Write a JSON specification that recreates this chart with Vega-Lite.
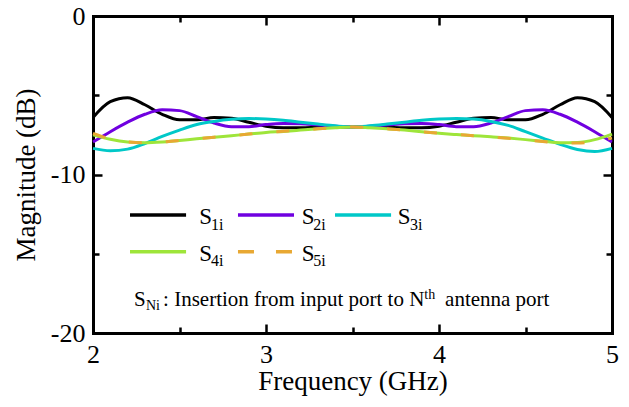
{
  "$schema": "https://vega.github.io/schema/vega-lite/v6.json",
  "width": 519,
  "height": 317,
  "autosize": "none",
  "padding": {"left": 93, "top": 16, "right": 17, "bottom": 74},
  "background": "white",
  "config": {
    "view": {"stroke": null},
    "font": "'Liberation Serif', 'Times New Roman', Times, 'DejaVu Serif', serif",
    "text": {"font": "'Liberation Serif', 'Times New Roman', Times, 'DejaVu Serif', serif"},
    "axis": {
      "grid": false,
      "domainColor": "black",
      "domainWidth": 3,
      "domainCap": "square",
      "tickColor": "black",
      "tickWidth": 2.5,
      "labelFont": "'Liberation Serif', 'Times New Roman', Times, 'DejaVu Serif', serif",
      "labelFontSize": 26,
      "labelColor": "black",
      "labelFlush": false,
      "labelOverlap": false,
      "titleFont": "'Liberation Serif', 'Times New Roman', Times, 'DejaVu Serif', serif",
      "titleFontSize": 27,
      "titleFontWeight": "normal",
      "titleColor": "black"
    }
  },
  "datasets": {
    "curves": [
      {"f": 2.0, "s": "S1i", "db": -6.4}, {"f": 2.1, "s": "S1i", "db": -5.4}, {"f": 2.2, "s": "S1i", "db": -5.15}, {"f": 2.3, "s": "S1i", "db": -5.6}, {"f": 2.4, "s": "S1i", "db": -6.2}, {"f": 2.5, "s": "S1i", "db": -6.55}, {"f": 2.6, "s": "S1i", "db": -6.55}, {"f": 2.7, "s": "S1i", "db": -6.4}, {"f": 2.8, "s": "S1i", "db": -6.45}, {"f": 2.9, "s": "S1i", "db": -6.7}, {"f": 3.0, "s": "S1i", "db": -6.95}, {"f": 3.1, "s": "S1i", "db": -7.05}, {"f": 3.2, "s": "S1i", "db": -7.05}, {"f": 3.3, "s": "S1i", "db": -7.02}, {"f": 3.4, "s": "S1i", "db": -7.0}, {"f": 3.5, "s": "S1i", "db": -7.0}, {"f": 3.6, "s": "S1i", "db": -7.0}, {"f": 3.7, "s": "S1i", "db": -7.02}, {"f": 3.8, "s": "S1i", "db": -7.05}, {"f": 3.9, "s": "S1i", "db": -7.05}, {"f": 4.0, "s": "S1i", "db": -6.95}, {"f": 4.1, "s": "S1i", "db": -6.7}, {"f": 4.2, "s": "S1i", "db": -6.45}, {"f": 4.3, "s": "S1i", "db": -6.4}, {"f": 4.4, "s": "S1i", "db": -6.55}, {"f": 4.5, "s": "S1i", "db": -6.55}, {"f": 4.6, "s": "S1i", "db": -6.2}, {"f": 4.7, "s": "S1i", "db": -5.6}, {"f": 4.8, "s": "S1i", "db": -5.15}, {"f": 4.9, "s": "S1i", "db": -5.4}, {"f": 5.0, "s": "S1i", "db": -6.4},
      {"f": 2.0, "s": "S2i", "db": -7.95}, {"f": 2.1, "s": "S2i", "db": -7.3}, {"f": 2.2, "s": "S2i", "db": -6.7}, {"f": 2.3, "s": "S2i", "db": -6.2}, {"f": 2.4, "s": "S2i", "db": -5.92}, {"f": 2.5, "s": "S2i", "db": -5.97}, {"f": 2.6, "s": "S2i", "db": -6.35}, {"f": 2.7, "s": "S2i", "db": -6.75}, {"f": 2.8, "s": "S2i", "db": -6.98}, {"f": 2.9, "s": "S2i", "db": -6.98}, {"f": 3.0, "s": "S2i", "db": -6.85}, {"f": 3.1, "s": "S2i", "db": -6.78}, {"f": 3.2, "s": "S2i", "db": -6.8}, {"f": 3.3, "s": "S2i", "db": -6.88}, {"f": 3.4, "s": "S2i", "db": -6.95}, {"f": 3.5, "s": "S2i", "db": -7.0}, {"f": 3.6, "s": "S2i", "db": -6.95}, {"f": 3.7, "s": "S2i", "db": -6.88}, {"f": 3.8, "s": "S2i", "db": -6.8}, {"f": 3.9, "s": "S2i", "db": -6.78}, {"f": 4.0, "s": "S2i", "db": -6.85}, {"f": 4.1, "s": "S2i", "db": -6.98}, {"f": 4.2, "s": "S2i", "db": -6.98}, {"f": 4.3, "s": "S2i", "db": -6.75}, {"f": 4.4, "s": "S2i", "db": -6.35}, {"f": 4.5, "s": "S2i", "db": -5.97}, {"f": 4.6, "s": "S2i", "db": -5.92}, {"f": 4.7, "s": "S2i", "db": -6.2}, {"f": 4.8, "s": "S2i", "db": -6.7}, {"f": 4.9, "s": "S2i", "db": -7.3}, {"f": 5.0, "s": "S2i", "db": -7.95},
      {"f": 2.0, "s": "S3i", "db": -8.35}, {"f": 2.1, "s": "S3i", "db": -8.5}, {"f": 2.2, "s": "S3i", "db": -8.4}, {"f": 2.3, "s": "S3i", "db": -8.05}, {"f": 2.4, "s": "S3i", "db": -7.6}, {"f": 2.5, "s": "S3i", "db": -7.2}, {"f": 2.6, "s": "S3i", "db": -6.85}, {"f": 2.7, "s": "S3i", "db": -6.65}, {"f": 2.8, "s": "S3i", "db": -6.52}, {"f": 2.9, "s": "S3i", "db": -6.47}, {"f": 3.0, "s": "S3i", "db": -6.5}, {"f": 3.1, "s": "S3i", "db": -6.58}, {"f": 3.2, "s": "S3i", "db": -6.7}, {"f": 3.3, "s": "S3i", "db": -6.82}, {"f": 3.4, "s": "S3i", "db": -6.93}, {"f": 3.5, "s": "S3i", "db": -7.0}, {"f": 3.6, "s": "S3i", "db": -6.93}, {"f": 3.7, "s": "S3i", "db": -6.82}, {"f": 3.8, "s": "S3i", "db": -6.7}, {"f": 3.9, "s": "S3i", "db": -6.58}, {"f": 4.0, "s": "S3i", "db": -6.5}, {"f": 4.1, "s": "S3i", "db": -6.46}, {"f": 4.2, "s": "S3i", "db": -6.5}, {"f": 4.3, "s": "S3i", "db": -6.65}, {"f": 4.4, "s": "S3i", "db": -6.9}, {"f": 4.5, "s": "S3i", "db": -7.3}, {"f": 4.6, "s": "S3i", "db": -7.7}, {"f": 4.7, "s": "S3i", "db": -8.1}, {"f": 4.8, "s": "S3i", "db": -8.42}, {"f": 4.9, "s": "S3i", "db": -8.55}, {"f": 5.0, "s": "S3i", "db": -8.35},
      {"f": 2.0, "s": "S4i", "db": -7.5}, {"f": 2.1, "s": "S4i", "db": -7.78}, {"f": 2.2, "s": "S4i", "db": -7.95}, {"f": 2.3, "s": "S4i", "db": -8.0}, {"f": 2.4, "s": "S4i", "db": -7.95}, {"f": 2.5, "s": "S4i", "db": -7.85}, {"f": 2.6, "s": "S4i", "db": -7.75}, {"f": 2.7, "s": "S4i", "db": -7.65}, {"f": 2.8, "s": "S4i", "db": -7.55}, {"f": 2.9, "s": "S4i", "db": -7.45}, {"f": 3.0, "s": "S4i", "db": -7.35}, {"f": 3.1, "s": "S4i", "db": -7.28}, {"f": 3.2, "s": "S4i", "db": -7.2}, {"f": 3.3, "s": "S4i", "db": -7.12}, {"f": 3.4, "s": "S4i", "db": -7.05}, {"f": 3.5, "s": "S4i", "db": -7.0}, {"f": 3.6, "s": "S4i", "db": -7.05}, {"f": 3.7, "s": "S4i", "db": -7.12}, {"f": 3.8, "s": "S4i", "db": -7.2}, {"f": 3.9, "s": "S4i", "db": -7.3}, {"f": 4.0, "s": "S4i", "db": -7.4}, {"f": 4.1, "s": "S4i", "db": -7.48}, {"f": 4.2, "s": "S4i", "db": -7.55}, {"f": 4.3, "s": "S4i", "db": -7.62}, {"f": 4.4, "s": "S4i", "db": -7.7}, {"f": 4.5, "s": "S4i", "db": -7.8}, {"f": 4.6, "s": "S4i", "db": -7.9}, {"f": 4.7, "s": "S4i", "db": -8.0}, {"f": 4.8, "s": "S4i", "db": -7.98}, {"f": 4.9, "s": "S4i", "db": -7.8}, {"f": 5.0, "s": "S4i", "db": -7.45},
      {"f": 2.0, "s": "S5i", "db": -7.4}, {"f": 2.1, "s": "S5i", "db": -7.75}, {"f": 2.2, "s": "S5i", "db": -7.95}, {"f": 2.3, "s": "S5i", "db": -8.0}, {"f": 2.4, "s": "S5i", "db": -7.95}, {"f": 2.5, "s": "S5i", "db": -7.85}, {"f": 2.6, "s": "S5i", "db": -7.75}, {"f": 2.7, "s": "S5i", "db": -7.65}, {"f": 2.8, "s": "S5i", "db": -7.55}, {"f": 2.9, "s": "S5i", "db": -7.45}, {"f": 3.0, "s": "S5i", "db": -7.35}, {"f": 3.1, "s": "S5i", "db": -7.27}, {"f": 3.2, "s": "S5i", "db": -7.19}, {"f": 3.3, "s": "S5i", "db": -7.12}, {"f": 3.4, "s": "S5i", "db": -7.05}, {"f": 3.5, "s": "S5i", "db": -7.0}, {"f": 3.6, "s": "S5i", "db": -7.05}, {"f": 3.7, "s": "S5i", "db": -7.12}, {"f": 3.8, "s": "S5i", "db": -7.2}, {"f": 3.9, "s": "S5i", "db": -7.3}, {"f": 4.0, "s": "S5i", "db": -7.4}, {"f": 4.1, "s": "S5i", "db": -7.48}, {"f": 4.2, "s": "S5i", "db": -7.55}, {"f": 4.3, "s": "S5i", "db": -7.63}, {"f": 4.4, "s": "S5i", "db": -7.72}, {"f": 4.5, "s": "S5i", "db": -7.82}, {"f": 4.6, "s": "S5i", "db": -7.92}, {"f": 4.7, "s": "S5i", "db": -8.02}, {"f": 4.8, "s": "S5i", "db": -8.02}, {"f": 4.9, "s": "S5i", "db": -7.9}, {"f": 5.0, "s": "S5i", "db": -7.7}
    ],
    "legendLines": [
      {"s": "S1i", "x1": 2.214, "x2": 2.538, "y": -12.555},
      {"s": "S2i", "x1": 2.838, "x2": 3.162, "y": -12.555},
      {"s": "S3i", "x1": 3.399, "x2": 3.723, "y": -12.555},
      {"s": "S4i", "x1": 2.214, "x2": 2.538, "y": -14.87},
      {"s": "S5i", "x1": 2.838, "x2": 3.162, "y": -14.87}
    ],
    "legendS": [
      {"x": 2.614, "y": -13.14, "t": "S"},
      {"x": 3.206, "y": -13.14, "t": "S"},
      {"x": 3.761, "y": -13.14, "t": "S"},
      {"x": 2.614, "y": -15.44, "t": "S"},
      {"x": 3.206, "y": -15.44, "t": "S"}
    ],
    "legendSub": [
      {"x": 2.682, "y": -13.5, "t": "1i"},
      {"x": 3.273, "y": -13.5, "t": "2i"},
      {"x": 3.832, "y": -13.5, "t": "3i"},
      {"x": 2.682, "y": -15.77, "t": "4i"},
      {"x": 3.273, "y": -15.77, "t": "5i"}
    ],
    "noteMain": [
      {"x": 2.237, "y": -18.3, "t": "S"},
      {"x": 2.405, "y": -18.3, "t": ": Insertion from input port to N"},
      {"x": 4.035, "y": -18.3, "t": "antenna port"}
    ],
    "noteSmall": [
      {"x": 2.306, "y": -18.55, "t": "Ni"},
      {"x": 3.915, "y": -17.85, "t": "th"}
    ]
  },
  "resolve": {"axis": {"x": "independent", "y": "independent"}},
  "layer": [
    {
      "data": {"name": "curves"},
      "transform": [{"filter": "datum.s !== 'S5i'"}],
      "mark": {"type": "line", "strokeWidth": 3, "interpolate": "monotone"},
      "encoding": {
        "x": {
          "field": "f", "type": "quantitative",
          "scale": {"domain": [2, 5], "nice": false, "zero": false},
          "axis": {
            "orient": "bottom",
            "title": "Frequency (GHz)",
            "values": [2, 2.5, 3, 3.5, 4, 4.5, 5],
            "labelExpr": "datum.value % 1 === 0 ? '' + datum.value : ''",
            "tickSize": {"condition": {"test": "datum.value % 1 === 0", "value": -9}, "value": -6},
            "labelPadding": 17,
            "titlePadding": -2
          }
        },
        "y": {
          "field": "db", "type": "quantitative",
          "scale": {"domain": [-20, 0], "nice": false, "zero": false},
          "axis": {
            "orient": "left",
            "title": "Magnitude (dB)",
            "values": [-20, -15, -10, -5, 0],
            "labelExpr": "datum.value % 10 === 0 ? '' + datum.value : ''",
            "tickSize": {"condition": {"test": "datum.value % 10 === 0", "value": -9}, "value": -6},
            "labelPadding": 17,
            "titlePadding": 10
          }
        },
        "color": {
          "field": "s", "type": "nominal",
          "scale": {"domain": ["S1i", "S2i", "S3i", "S4i", "S5i"], "range": ["#000000", "#7000e0", "#00c8c8", "#9ee53a", "#e8a833"]},
          "legend": null
        },
        "order": {"field": "f", "type": "quantitative"}
      }
    },
    {
      "data": {"name": "curves"},
      "transform": [{"filter": "datum.s === 'S5i'"}],
      "mark": {"type": "line", "strokeWidth": 3, "interpolate": "monotone", "strokeDash": [13, 24]},
      "encoding": {
        "x": {"field": "f", "type": "quantitative", "scale": {"domain": [2, 5], "nice": false, "zero": false}, "axis": null},
        "y": {"field": "db", "type": "quantitative", "scale": {"domain": [-20, 0], "nice": false, "zero": false}, "axis": null},
        "color": {"field": "s", "type": "nominal", "legend": null},
        "order": {"field": "f", "type": "quantitative"}
      }
    },
    {
      "data": {"name": "legendLines"},
      "mark": {"type": "rule", "strokeWidth": 3.5},
      "encoding": {
        "x": {
          "field": "x1", "type": "quantitative",
          "scale": {"domain": [2, 5], "nice": false, "zero": false},
          "axis": {
            "orient": "top", "title": null, "labels": false,
            "values": [2, 2.5, 3, 3.5, 4, 4.5, 5],
            "tickSize": {"condition": {"test": "datum.value % 1 === 0", "value": -9}, "value": -6}
          }
        },
        "x2": {"field": "x2"},
        "y": {
          "field": "y", "type": "quantitative",
          "scale": {"domain": [-20, 0], "nice": false, "zero": false},
          "axis": {
            "orient": "right", "title": null, "labels": false,
            "values": [-20, -15, -10, -5, 0],
            "tickSize": {"condition": {"test": "datum.value % 10 === 0", "value": -9}, "value": -6}
          }
        },
        "color": {"field": "s", "type": "nominal", "legend": null},
        "strokeDash": {"condition": {"test": "datum.s === 'S5i'", "value": [16, 22]}, "value": [1, 0]}
      }
    },
    {
      "data": {"name": "legendS"},
      "mark": {"type": "text", "align": "left", "baseline": "alphabetic", "fontSize": 23, "color": "black"},
      "encoding": {
        "x": {"field": "x", "type": "quantitative", "scale": {"domain": [2, 5], "nice": false, "zero": false}, "axis": null},
        "y": {"field": "y", "type": "quantitative", "scale": {"domain": [-20, 0], "nice": false, "zero": false}, "axis": null},
        "text": {"field": "t"}
      }
    },
    {
      "data": {"name": "legendSub"},
      "mark": {"type": "text", "align": "left", "baseline": "alphabetic", "fontSize": 16, "color": "black"},
      "encoding": {
        "x": {"field": "x", "type": "quantitative", "scale": {"domain": [2, 5], "nice": false, "zero": false}, "axis": null},
        "y": {"field": "y", "type": "quantitative", "scale": {"domain": [-20, 0], "nice": false, "zero": false}, "axis": null},
        "text": {"field": "t"}
      }
    },
    {
      "data": {"name": "noteMain"},
      "mark": {"type": "text", "align": "left", "baseline": "alphabetic", "fontSize": 21, "color": "black"},
      "encoding": {
        "x": {"field": "x", "type": "quantitative", "scale": {"domain": [2, 5], "nice": false, "zero": false}, "axis": null},
        "y": {"field": "y", "type": "quantitative", "scale": {"domain": [-20, 0], "nice": false, "zero": false}, "axis": null},
        "text": {"field": "t"}
      }
    },
    {
      "data": {"name": "noteSmall"},
      "mark": {"type": "text", "align": "left", "baseline": "alphabetic", "fontSize": 14, "color": "black"},
      "encoding": {
        "x": {"field": "x", "type": "quantitative", "scale": {"domain": [2, 5], "nice": false, "zero": false}, "axis": null},
        "y": {"field": "y", "type": "quantitative", "scale": {"domain": [-20, 0], "nice": false, "zero": false}, "axis": null},
        "text": {"field": "t"}
      }
    }
  ]
}
